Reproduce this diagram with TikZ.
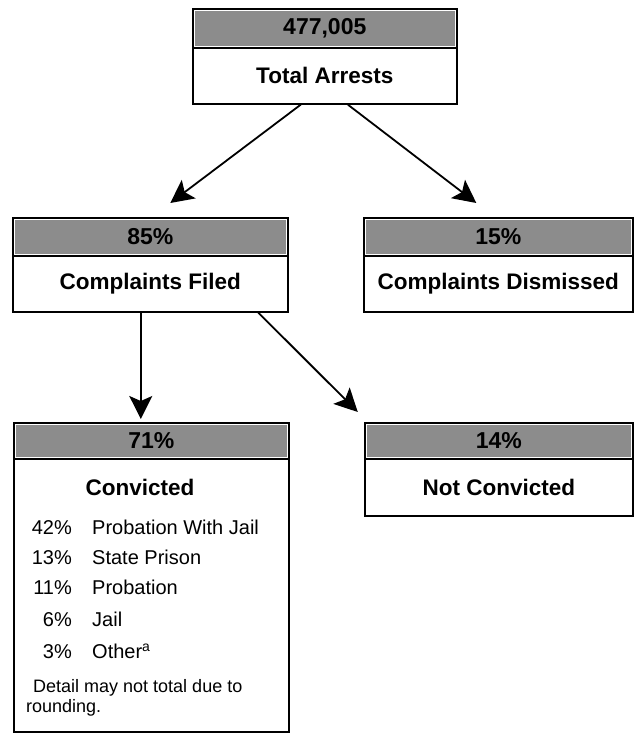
\documentclass[tikz,border=0pt]{standalone}
\usepackage{fontspec}
\setmainfont{Liberation Sans}
\usetikzlibrary{arrows.meta,calc}
\begin{document}
\begin{tikzpicture}[x=1pt,y=-1pt,
  hdr/.style={draw=black,line width=1.6pt,fill=black!45,inner sep=0pt,
    font=\fontsize{23}{26}\selectfont\bfseries},
  bodybox/.style={draw=black,line width=1.6pt,fill=white,inner sep=0pt,
    font=\fontsize{22.5}{26}\selectfont\bfseries},
  ttl/.style={inner sep=0pt,font=\fontsize{22.5}{26}\selectfont\bfseries},
  rowp/.style={inner sep=0pt,anchor=mid east,font=\fontsize{20}{24}\selectfont},
  rowl/.style={inner sep=0pt,anchor=mid west,font=\fontsize{20}{24}\selectfont},
  note/.style={inner sep=0pt,anchor=mid west,font=\fontsize{18}{22}\selectfont},
  conn/.style={line width=1.8pt,-{Stealth[length=23pt,width=23pt,inset=5pt]}},
  innerline/.style={white,line width=0.9pt}
]
\useasboundingbox (0,0) rectangle (634,733);

% Top box
\node[bodybox,minimum width=264pt,minimum height=56pt,anchor=north west] (ta) at (192,47) {};
\node[hdr,minimum width=264pt,minimum height=39pt,anchor=north west] (tah) at (192,8) {477,005};
\node[ttl] (tat) at (ta.center) {Total Arrests};

% Complaints Filed
\node[bodybox,minimum width=275pt,minimum height=56pt,anchor=north west] (cf) at (12,255) {};
\node[hdr,minimum width=275pt,minimum height=38pt,anchor=north west] (cfh) at (12,217) {85\%};
\node[ttl] (cft) at (cf.center) {Complaints Filed};

% Complaints Dismissed
\node[bodybox,minimum width=269pt,minimum height=56pt,anchor=north west] (cd) at (363,255) {};
\node[hdr,minimum width=269pt,minimum height=38pt,anchor=north west] (cdh) at (363,217) {15\%};
\node[ttl] (cdt) at (cd.center) {Complaints Dismissed};

% Convicted
\node[bodybox,minimum width=275pt,minimum height=273pt,anchor=north west] (cv) at (13,458) {};
\node[hdr,minimum width=275pt,minimum height=36pt,anchor=north west] (cvh) at (13,422) {71\%};
\node[ttl] (cvt) at (140,487) {Convicted};
\node[rowp] (p1) at (72,532) {42\%};
\node[rowl] (l1) at (92,532) {Probation With Jail};
\node[rowp] (p2) at (72,562) {13\%};
\node[rowl] (l2) at (92,562) {State Prison};
\node[rowp] (p3) at (72,592) {11\%};
\node[rowl] (l3) at (92,592) {Probation};
\node[rowp] (p4) at (72,624) {6\%};
\node[rowl] (l4) at (92,624) {Jail};
\node[rowp] (p5) at (72,656) {3\%};
\node[rowl] (l5) at (92,656) {Other\textsuperscript{a}};
\node[note] (n1) at (33,690) {Detail may not total due to};
\node[note] (n2) at (26,710) {rounding.};

% Not Convicted
\node[bodybox,minimum width=268pt,minimum height=57pt,anchor=north west] (nc) at (364,458) {};
\node[hdr,minimum width=268pt,minimum height=36pt,anchor=north west] (nch) at (364,422) {14\%};
\node[ttl] (nct) at (nc.center) {Not Convicted};

% inner white lines of headers
\foreach \h in {tah,cfh,cdh,cvh,nch}{
  \draw[innerline] ([shift={(2.6pt,-2.6pt)}]\h.north west) rectangle ([shift={(-2.6pt,2.6pt)}]\h.south east);
}

% connectors
\draw[conn] ([xshift=-24pt]ta.south) -- ([shift={(20pt,14pt)}]cfh.north);
\draw[conn] ([xshift=23pt]ta.south) -- ([shift={(-22pt,14pt)}]cdh.north);
\draw[conn] ([xshift=-9.5pt]cf.south) -- ([shift={(-10.5pt,3pt)}]cvh.north);
\draw[conn] ([xshift=108pt]cf.south) -- ([shift={(-141pt,10pt)}]nch.north);
\end{tikzpicture}
\end{document}
